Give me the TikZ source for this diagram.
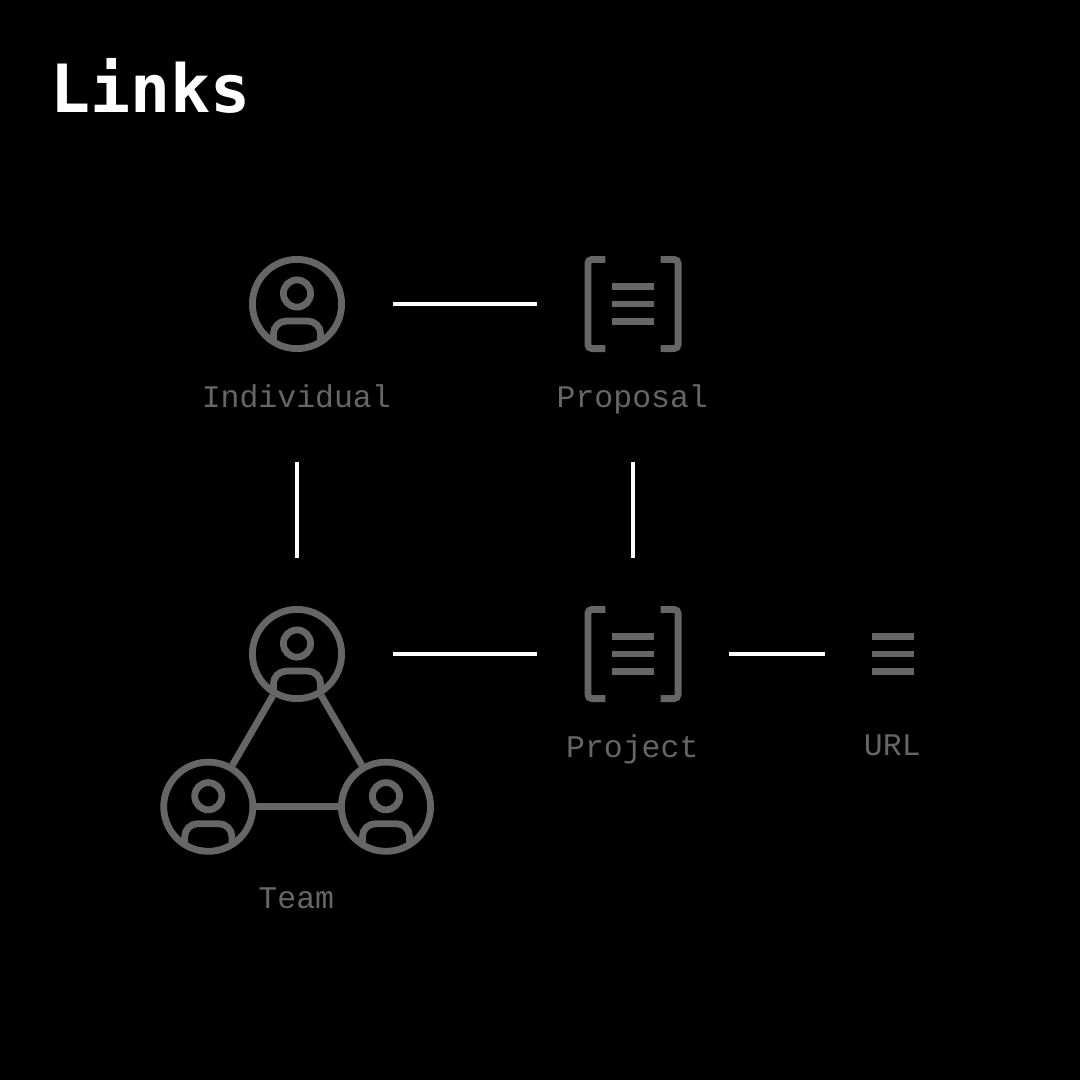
\documentclass[tikz,border=0pt]{standalone}
\usepackage{fontspec}
\usepackage{tikz}
\setmonofont{Liberation Mono}
\newfontfamily\headingfont{DejaVu Sans Mono}
\definecolor{icongray}{HTML}{666666}
\tikzset{
	iconline/.style={draw=icongray, line width=6.8},
	link/.style={draw=white, line width=4},
	iconbox/.style={minimum width=192, minimum height=192, inner sep=0, outer sep=0},
	ring/.style={circle, iconline, minimum size=89.2, inner sep=0},
	caption/.style={anchor=base, inner sep=0, xshift=-.7, text=icongray, font=\ttfamily\fontsize{31.5}{32}\selectfont},
	person/.pic={
		\node[ring] (-ring) at (0,0) {};
		\draw[iconline] (0,-10.5) circle (13.6);
		\draw[iconline, rounded corners=13] (-23.6,38) -- (-23.6,17) -- (23.6,17) -- (23.6,38);
	},
	rows/.pic={
		\foreach \i in {-17.2,0,17.2} {
			\draw[draw=icongray, line width=6.7] (-20.8,\i) -- (20.8,\i);
		}
	},
	doc/.pic={
		\draw[iconline, rounded corners=4] (-27.7,-44.6) -- (-45.1,-44.6) -- (-45.1,44.6) -- (-27.7,44.6);
		\draw[iconline, rounded corners=4] (27.7,-44.6) -- (45.1,-44.6) -- (45.1,44.6) -- (27.7,44.6);
		\pic {rows};
	}
}
\begin{document}
\begin{tikzpicture}[x=1pt, y=-1pt]
	\fill[black] (0,0) rectangle (1080,1080);
	\node[anchor=base west, inner sep=0, text=white, font=\headingfont\bfseries\fontsize{66.5}{67}\selectfont] (title) at (50,112) {Links};

	% icons
	\node[iconbox] (individual) at (297,304) {};
	\node[iconbox] (proposal) at (633,304) {};
	\node[iconbox] (team) at (297,654) {};
	\node[iconbox] (project) at (633,654) {};
	\node[iconbox, minimum width=136] (url) at (893,654) {};
	\pic at (individual) {person};
	\pic at (proposal) {doc};
	\pic at (project) {doc};
	\pic at (url) {rows};

	% team
	\pic (teamtop) at (team) {person};
	\pic (teamleft) at (208.3,806.7) {person};
	\pic (teamright) at (386,806.7) {person};
	\draw[iconline] (teamtop-ring) -- (teamleft-ring);
	\draw[iconline] (teamtop-ring) -- (teamright-ring);
	\draw[iconline] (teamleft-ring) -- (teamright-ring);

	% captions
	\node[caption] (individuallabel) at (297,407) {Individual};
	\node[caption] (proposallabel) at (633,407) {Proposal};
	\node[caption] (projectlabel) at (633,757) {Project};
	\node[caption] (urllabel) at (893,755) {URL};
	\node[caption] (teamlabel) at (297,908) {Team};

	% links
	\coordinate (individualend) at (297,462);
	\coordinate (proposalend) at (633,462);
	\draw[link] (individual) -- (proposal);
	\draw[link] (team) -- (project);
	\draw[link] (project) -- (url);
	\draw[link] (individualend) -- (team.north);
	\draw[link] (proposalend) -- (project.north);
\end{tikzpicture}
\end{document}
